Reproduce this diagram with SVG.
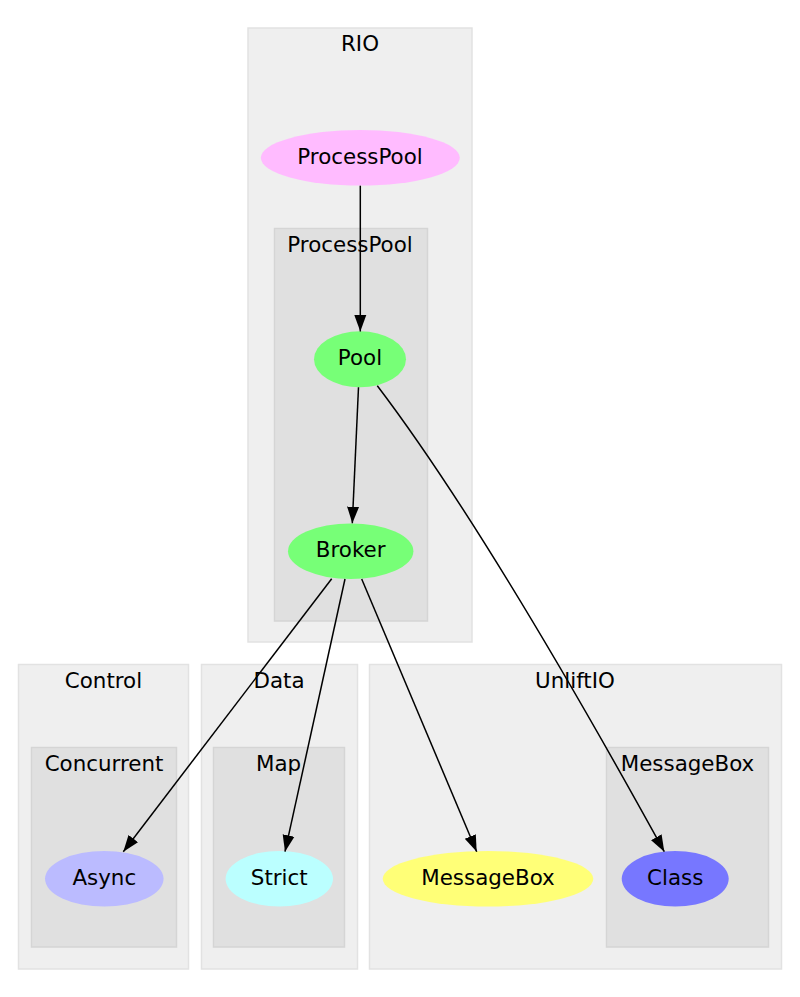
<svg xmlns="http://www.w3.org/2000/svg" width="800" height="997" viewBox="0 0 800 997">
<style>
text{font-family:"DejaVu Sans","Liberation Sans",sans-serif;font-size:21.4px;fill:#000;text-anchor:middle}
.c1{fill:#efefef;stroke:#e2e2e2;stroke-width:1.5}
.c2{fill:#e0e0e0;stroke:#d5d5d5;stroke-width:1.5}
.e{fill:none;stroke:#000;stroke-width:1.5;marker-end:url(#ah)}
</style>
<defs>
<marker id="ah" markerUnits="userSpaceOnUse" markerWidth="18" markerHeight="14" refX="16.5" refY="7" orient="auto" viewBox="0 0 18 14">
<path d="M0,1 L16.5,7 L0,13 z" fill="#000"/>
</marker>
</defs>
<rect width="800" height="997" fill="#fff"/>
<g id="cluster_RIO">
<rect class="c1" x="248" y="28" width="224" height="614"/>
<text x="360" y="51">RIO</text>
</g>
<g id="cluster_RIO_ProcessPool">
<rect class="c2" x="274.5" y="228.5" width="153" height="392.5"/>
<text x="350" y="252.3">ProcessPool</text>
</g>
<g id="cluster_Control">
<rect class="c1" x="18.5" y="664.5" width="170" height="304.5"/>
<text x="103.5" y="688">Control</text>
</g>
<g id="cluster_Control_Concurrent">
<rect class="c2" x="31.5" y="747.5" width="145" height="199.5"/>
<text x="104" y="771">Concurrent</text>
</g>
<g id="cluster_Data">
<rect class="c1" x="201.5" y="664.5" width="156" height="304.5"/>
<text x="279" y="688">Data</text>
</g>
<g id="cluster_Data_Map">
<rect class="c2" x="213.5" y="747.5" width="131" height="199.5"/>
<text x="278.5" y="771">Map</text>
</g>
<g id="cluster_UnliftIO">
<rect class="c1" x="369.5" y="664.5" width="412" height="304.5"/>
<text x="575" y="688">UnliftIO</text>
</g>
<g id="cluster_UnliftIO_MessageBox">
<rect class="c2" x="606.5" y="747.5" width="162" height="199.5"/>
<text x="687.5" y="771">MessageBox</text>
</g>
<g id="node_ProcessPool">
<ellipse cx="360.3" cy="157.8" rx="99.5" ry="27.8" fill="#ffbbff"/>
<text x="360" y="164">ProcessPool</text>
</g>
<g id="node_Pool">
<ellipse cx="360" cy="359.3" rx="46" ry="28" fill="#77ff77"/>
<text x="360" y="365.3">Pool</text>
</g>
<g id="node_Broker">
<ellipse cx="350.7" cy="551.2" rx="62.7" ry="27.8" fill="#77ff77"/>
<text x="350.7" y="557">Broker</text>
</g>
<g id="node_Async">
<ellipse cx="104.3" cy="878.8" rx="59.3" ry="27.8" fill="#bbbbff"/>
<text x="104.3" y="885">Async</text>
</g>
<g id="node_Strict">
<ellipse cx="279.3" cy="878.8" rx="53.7" ry="27.8" fill="#bbffff"/>
<text x="279.3" y="885">Strict</text>
</g>
<g id="node_MessageBox">
<ellipse cx="488" cy="878.8" rx="105.3" ry="27.8" fill="#ffff77"/>
<text x="488" y="885">MessageBox</text>
</g>
<g id="node_Class">
<ellipse cx="675.2" cy="878.8" rx="53.5" ry="27.8" fill="#7777ff"/>
<text x="675.2" y="885">Class</text>
</g>
<g id="edges">
<path class="e" d="M360.3,185.7 L360.3,331.5"/>
<path class="e" d="M358.5,387.3 L352.3,523.2"/>
<path class="e" d="M377.3,385.7 C474.1,513.1 584.3,706.3 664.3,851.7"/>
<path class="e" d="M331.7,578.7 L123.3,851.7"/>
<path class="e" d="M345,579 L285,851.7"/>
<path class="e" d="M361.7,579 L476.7,851.7"/>
</g>
</svg>
